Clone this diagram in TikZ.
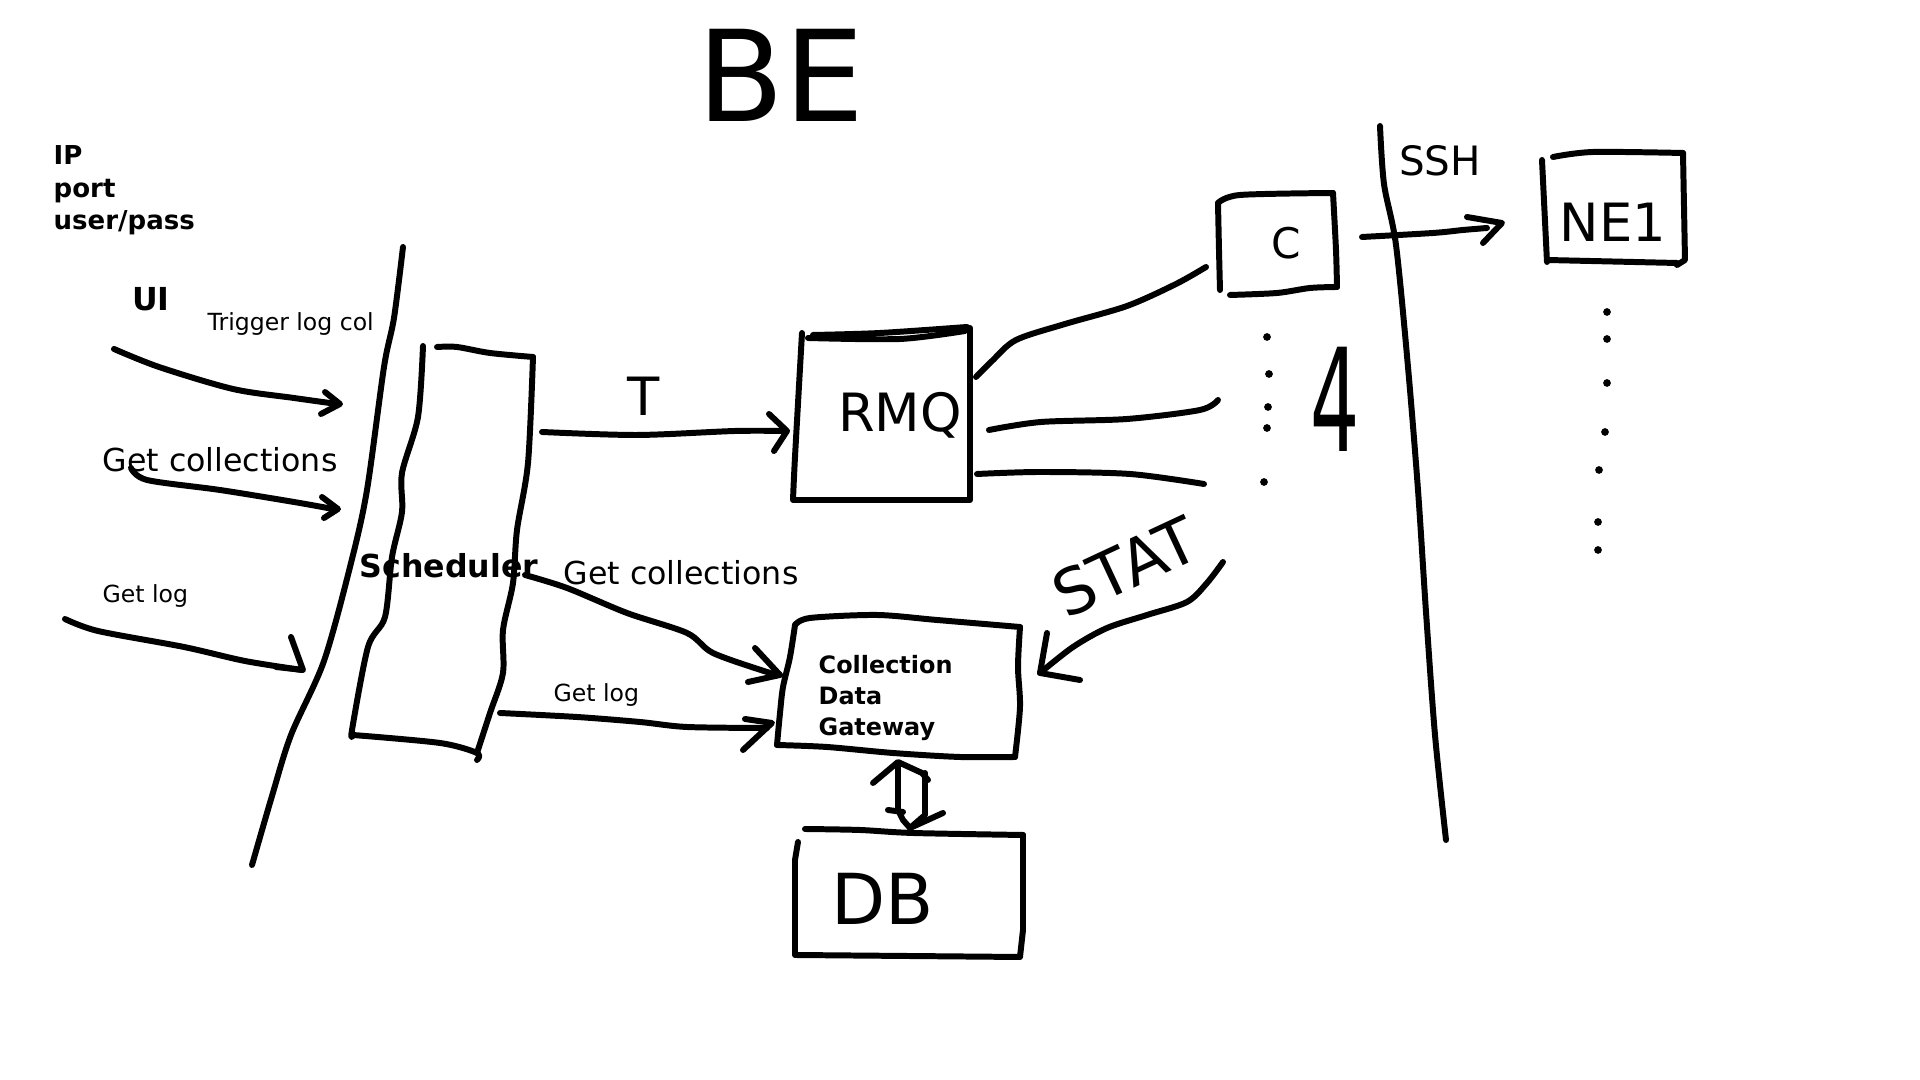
\documentclass[tikz,border=0pt]{standalone}
\usepackage{fontspec}
\setmainfont{DejaVu Sans}
\begin{document}
\begin{tikzpicture}[x=0.01cm,y=-0.01cm,
  pen/.style={line width=1.7pt,line cap=round,line join=round},
  lbl/.style={inner sep=0pt,font=\fontsize{6.7}{8}\selectfont},
  big/.style={inner sep=0pt,font=\fontsize{9}{11}\selectfont},
  hand/.style={inner sep=0pt},
  dotmark/.style={fill=black}]
\useasboundingbox[fill=white] (0,0) rectangle (1920,1080);

% ---------- boundaries ----------
\draw[pen] plot[smooth,tension=0.5] coordinates {(403,247) (394,318) (384,367) (367,490) (351,563) (324,661) (291,735) (272,796) (252,865)};
\draw[pen] plot[smooth,tension=0.5] coordinates {(1380,126) (1384,184) (1396,245) (1408,367) (1418,490) (1426,612) (1435,735) (1446,840)};

% ---------- texts ----------
\node[inner sep=0pt,anchor=north west,align=left,font=\fontsize{7.4}{9.2}\selectfont\bfseries] (cred) at (53,145) {IP\\port\\user/pass};
\node[hand,font=\fontsize{36}{40}\selectfont] (be) at (781,75) {BE};
\node[hand,font=\fontsize{9}{11}\selectfont\bfseries] (ui) at (151,299) {UI};
\node[lbl,anchor=base west] (trig) at (207,331) {Trigger log col};
\node[big,anchor=base west] (gc1) at (102,472) {Get collections};
\node[lbl,anchor=base west] (gl1) at (102,603) {Get log};
\node[big,anchor=base west,font=\fontsize{9}{11}\selectfont\bfseries] (sched) at (359,578) {Scheduler};
\node[big,anchor=base west] (gc2) at (563,585) {Get collections};
\node[lbl,anchor=base west] (gl2) at (553,702) {Get log};
\node[inner sep=0pt,anchor=north west,align=left,font=\fontsize{6.8}{8.7}\selectfont\bfseries] (cdgt) at (818,655) {Collection\\Data\\Gateway};
\node[hand,font=\fontsize{15}{18}\selectfont] (t) at (644,396) {T};
\node[hand,font=\fontsize{15}{18}\selectfont] (rmqt) at (900,415) {RMQ};
\node[hand,font=\fontsize{12}{14}\selectfont] (ct) at (1286,243) {C};
\node[hand,font=\fontsize{22}{24}\selectfont] (four) at (1335,399) {\scalebox{1}[1.85]{4}};
\node[hand,font=\fontsize{11.5}{14}\selectfont] (ssh) at (1440,161) {SSH};
\node[hand,font=\fontsize{15}{17}\selectfont] (ne) at (1613,222) {NE1};
\node[hand,font=\fontsize{18}{20}\selectfont,rotate=25] (stat) at (1125,567) {STAT};
\node[hand,font=\fontsize{20}{22}\selectfont] (db) at (883,899) {DB};

% ---------- Scheduler box ----------
\draw[pen] plot[smooth,tension=0.5] coordinates {(423,346) (418,417) (402,473) (402,512) (392,557) (385,617) (368,647) (352,730) (353,735)};
\draw[pen] plot[smooth,tension=0.5] coordinates {(353,735) (440,743) (477,753) (477,760)};
\draw[pen] plot[smooth,tension=0.5] coordinates {(437,347) (457,347) (490,353) (533,357)};
\draw[pen] plot[smooth,tension=0.5] coordinates {(533,357) (528,463) (517,530) (513,583) (503,630) (503,673) (490,713) (477,753)};

% ---------- RMQ box ----------
\draw[pen] plot[smooth,tension=0.5] coordinates {(802,333) (795,457) (793,500)} -- (970,500) -- (970,328);
\draw[pen] plot[smooth,tension=0.5] coordinates {(813,335) (880,333) (967,327)};
\draw[pen] plot[smooth,tension=0.5] coordinates {(808,338) (900,339) (965,331)};

% ---------- C box ----------
\draw[pen] plot[smooth,tension=0.5] coordinates {(1218,203) (1219,250) (1220,290)};
\draw[pen] plot[smooth,tension=0.5] coordinates {(1218,203) (1240,195) (1333,193)};
\draw[pen] plot[smooth,tension=0.5] coordinates {(1333,193) (1336,250) (1337,287)};
\draw[pen] plot[smooth,tension=0.5] coordinates {(1230,295) (1277,293) (1310,288) (1337,287)};

% ---------- NE1 box ----------
\draw[pen] (1542,160) -- (1547,262);
\draw[pen] plot[smooth,tension=0.5] coordinates {(1553,157) (1593,152) (1683,153)};
\draw[pen] (1683,153) -- (1685,260) -- (1677,265);
\draw[pen] (1547,260) -- (1677,263);

% ---------- CDG box ----------
\draw[pen] plot[smooth,tension=0.5] coordinates {(795,625) (790,657) (783,687) (780,713) (777,745)};
\draw[pen] plot[smooth,tension=0.5] coordinates {(795,625) (810,618) (877,615) (937,620) (1020,627)};
\draw[pen] plot[smooth,tension=0.5] coordinates {(1020,627) (1018,667) (1020,707) (1015,757)};
\draw[pen] plot[smooth,tension=0.5] coordinates {(777,745) (827,747) (893,753) (960,757) (1015,757)};

% ---------- DB box ----------
\draw[pen] plot[smooth,tension=0.5] coordinates {(805,829) (860,830) (913,833) (1023,835)};
\draw[pen] (798,842) -- (795,860) -- (795,955) -- (1020,957) -- (1023,930) -- (1023,835);

% ---------- dots ----------
\foreach \p in {(1267,337),(1269,374),(1268,407),(1267,428),(1264,482),
                (1607,312),(1607,339),(1607,383),(1605,432),(1599,470),(1598,522),(1598,550)}
  \fill[dotmark] \p circle (1.1pt);

% ---------- connectors ----------
% UI trigger
\draw[pen] plot[smooth,tension=0.5] coordinates {(114,349) (159,367) (233,389) (294,398) (337,404)};
\draw[pen] (325,392) -- (340,404) -- (321,414);
% Get collections (left)
\draw[pen] plot[smooth,tension=0.5] coordinates {(131,468) (147,480) (220,490) (294,502) (333,509)};
\draw[pen] (322,497) -- (338,509) -- (324,518);
% Get log (left)
\draw[pen] plot[smooth,tension=0.5] coordinates {(65,619) (98,631) (184,647) (245,661) (302,670)};
\draw[pen] (291,637) -- (303,670) -- (276,667);
% T
\draw[pen] plot[smooth,tension=0.5] coordinates {(542,432) (637,435) (735,431) (784,431)};
\draw[pen] (769,414) -- (787,431) -- (774,451);
% Get collections (right)
\draw[pen] plot[smooth,tension=0.5] coordinates {(525,575) (567,588) (627,613) (687,633) (713,653) (767,672) (780,675)};
\draw[pen] (755,648) -- (780,675) -- (748,682);
% Get log (right)
\draw[pen] plot[smooth,tension=0.5] coordinates {(500,713) (577,717) (640,722) (687,727) (767,728)};
\draw[pen] (745,719) -- (772,723) -- (743,750);
% STAT
\draw[pen] plot[smooth,tension=0.5] coordinates {(1223,562) (1207,583) (1187,602) (1147,615) (1107,628) (1073,647) (1040,673)};
\draw[pen] (1047,633) -- (1040,673) -- (1080,680);
% SSH
\draw[pen] plot[smooth,tension=0.5] coordinates {(1362,237) (1433,233) (1463,230) (1487,228)};
\draw[pen] (1467,217) -- (1502,223) -- (1483,243);
% RMQ to consumers
\draw[pen] plot[smooth,tension=0.5] coordinates {(976,377) (992,361) (1016,340) (1065,324) (1127,306) (1176,284) (1206,267)};
\draw[pen] plot[smooth,tension=0.5] coordinates {(989,430) (1041,422) (1127,419) (1200,410) (1218,400)};
\draw[pen] plot[smooth,tension=0.5] coordinates {(977,474) (1040,472) (1130,474) (1204,484)};
% CDG <-> DB
\draw[pen] (873,783) -- (898,762) -- (922,773) -- (928,780);
\draw[pen] (898,763) -- (898,810) -- (903,820) -- (910,828);
\draw[pen] (925,773) -- (925,815) -- (910,828);
\draw[pen] (943,813) -- (910,828);
\draw[pen] (888,810) -- (903,812);
\end{tikzpicture}
\end{document}
